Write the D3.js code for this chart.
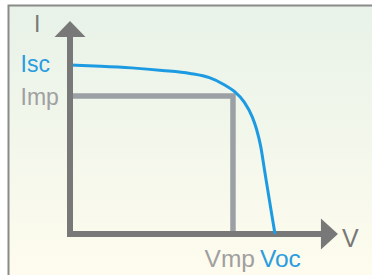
<!DOCTYPE html>
<html>
<head>
<meta charset="utf-8">
<script src="https://cdn.jsdelivr.net/npm/d3@7"></script>
<style>
html,body{margin:0;padding:0;background:#fff;}
svg{display:block;}
text{font-family:"Liberation Sans",Arial,Helvetica,sans-serif;}
</style>
</head>
<body>
<svg id="chart" width="372" height="275"></svg>
<script>
// I-V curve of a solar cell (normalised units: Voc = 1, Isc = 1)
const voltage = [0, 0.15, 0.30, 0.45, 0.585, 0.68, 0.75, 0.80, 0.85, 0.89, 0.91, 0.93, 0.95, 0.97, 0.985, 1.0];
const current = [1.0, 0.993, 0.983, 0.968, 0.950, 0.925, 0.885, 0.845, 0.78, 0.69, 0.62, 0.52, 0.37, 0.22, 0.11, 0.0];
const Isc = 1.0, Imp = 0.817, Vmp = 0.795, Voc = 1.0;
const axisMaxV = 1.307, axisMaxI = 1.26;
const axisLabels = {x: "V", y: "I"};
const markLabels = {isc: "Isc", imp: "Imp", vmp: "Vmp", voc: "Voc"};

const svg = d3.select("#chart");
const W = 372, H = 275;

// background gradient
const defs = svg.append("defs");
const grad = defs.append("linearGradient").attr("id","bg").attr("x1",0).attr("y1",0).attr("x2",0).attr("y2",1);
grad.append("stop").attr("offset","0%").attr("stop-color","#e8f2e8");
grad.append("stop").attr("offset","100%").attr("stop-color","#fefcee");
svg.append("rect").attr("x",8).attr("y",5).attr("width",W).attr("height",H).attr("fill","url(#bg)");
svg.append("path").attr("d",`M8.5,${H} V5.5 H${W}`).attr("fill","none").attr("stroke","#8a8a8a").attr("stroke-width",2);

const x = d3.scaleLinear().domain([0, 1]).range([70, 275]);
const y = d3.scaleLinear().domain([0, 1]).range([234, 65]);

const axisColor = "#787878", lineGray = "#9ba0a5", blue = "#1d9be2";

// Imp / Vmp guide lines
svg.append("path")
  .attr("d", `M${x(0)},${y(Imp)} H${x(Vmp)} V${y(0)}`)
  .attr("fill","none").attr("stroke",lineGray).attr("stroke-width",5.5);

// axes with arrow heads
svg.append("line").attr("x1",x(0)).attr("y1",y(0)+3).attr("x2",x(0)).attr("y2",y(axisMaxI)+14)
  .attr("stroke",axisColor).attr("stroke-width",6);
svg.append("path")
  .attr("d",`M${x(0)},${y(axisMaxI)} L${x(0)+15.5},${y(axisMaxI)+16} L${x(0)-15.5},${y(axisMaxI)+16} Z`)
  .attr("fill",axisColor);
svg.append("line").attr("x1",x(0)-3).attr("y1",y(0)).attr("x2",x(axisMaxV)-15).attr("y2",y(0))
  .attr("stroke",axisColor).attr("stroke-width",6);
svg.append("path")
  .attr("d",`M${x(axisMaxV)},${y(0)} L${x(axisMaxV)-17},${y(0)-15.5} L${x(axisMaxV)-17},${y(0)+15.5} Z`)
  .attr("fill",axisColor);

// I-V curve
const pts = voltage.map((v,i)=>[v,current[i]]);
const line = d3.line().x(d=>x(d[0])).y(d=>y(d[1])).curve(d3.curveMonotoneX);
svg.append("path").datum(pts).attr("d",line)
  .attr("fill","none").attr("stroke",blue).attr("stroke-width",3);
// cover the start of the curve under the axis
svg.append("line").attr("x1",x(0)).attr("y1",y(Isc)-6).attr("x2",x(0)).attr("y2",y(Isc)+6)
  .attr("stroke",axisColor).attr("stroke-width",6);

// labels
svg.append("text").attr("x",34).attr("y",32).attr("font-size",23).attr("fill",axisColor).text(axisLabels.y);
svg.append("text").attr("x",342).attr("y",246.5).attr("font-size",25).attr("fill",axisColor).text(axisLabels.x);
svg.append("text").attr("x",20.5).attr("y",y(Isc)+7).attr("font-size",23).attr("fill","#2a9de0").text(markLabels.isc);
svg.append("text").attr("x",20.5).attr("y",y(Imp)+9).attr("font-size",23).attr("fill","#a0a0a0").text(markLabels.imp);
svg.append("text").attr("x",x(Vmp)+22).attr("y",266.5).attr("text-anchor","end").attr("font-size",24.5).attr("fill","#a0a0a0").text(markLabels.vmp);
svg.append("text").attr("x",x(Voc)-15).attr("y",266.5).attr("font-size",24.5).attr("fill","#2a9de0").text(markLabels.voc);
</script>
</body>
</html>
